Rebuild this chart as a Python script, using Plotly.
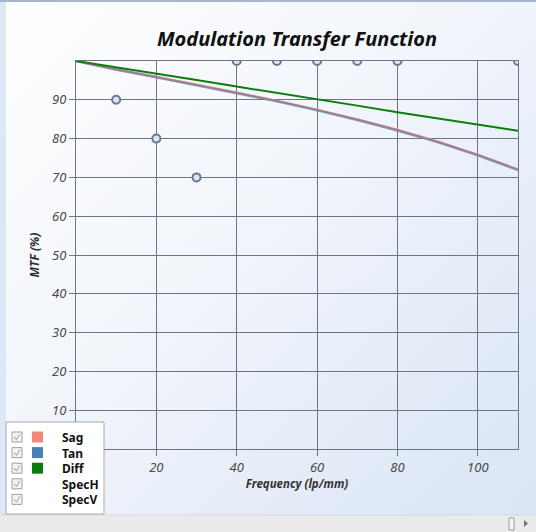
import plotly.graph_objects as go

# --- data ---
freq = [0, 10, 20, 30, 40, 50, 60, 70, 80, 90, 100, 110]
mtf_sag = [100, 97.8, 95.9, 93.9, 91.8, 89.7, 87.4, 84.9, 82.2, 79.2, 75.8, 72.0]
mtf_tan = [100, 97.8, 95.8, 93.8, 91.7, 89.6, 87.3, 84.8, 82.1, 79.1, 75.7, 71.9]
mtf_diff = [100, 98.4, 96.8, 95.1, 93.4, 91.8, 90.1, 88.5, 86.8, 85.2, 83.5, 82.0]

spec_h_x = [10, 20, 30]
spec_h_y = [90, 80, 70]
spec_v_x = [40, 50, 60, 70, 80, 110]
spec_v_y = [100, 100, 100, 100, 100, 100]

legend_names = ["Sag", "Tan", "Diff", "SpecH", "SpecV"]
legend_colors = ["#f4877b", "#4682b4", "#0a7d0a", None, None]

x_ticks = [20, 40, 60, 80, 100]
y_ticks = [10, 20, 30, 40, 50, 60, 70, 80, 90]

W, H = 536, 532
L, R, T, B = 76, 18, 61, 83
PW, PH = W - L - R, H - T - B
FONT = "Noto Sans, Open Sans, sans-serif"
GRID = "#6e7584"
PLOT_BG = "#dbe5f5"


def px(x):
    return (x - L) / PW


def py(y):
    return (H - B - y) / PH


fig = go.Figure()

fig.add_trace(go.Scatter(x=freq, y=mtf_sag, name="Sag", mode="lines",
                         line=dict(color="#f4877b", width=2.5)))
fig.add_trace(go.Scatter(x=freq, y=mtf_tan, name="Tan", mode="lines",
                         line=dict(color="rgba(70,130,180,0.55)", width=2.5)))
fig.add_trace(go.Scatter(x=freq, y=mtf_diff, name="Diff", mode="lines",
                         line=dict(color="#0a7d0a", width=2)))

marker_style = dict(symbol="circle", size=8, color=PLOT_BG,
                    line=dict(color="#6c7892", width=2))
fig.add_trace(go.Scatter(x=spec_h_x, y=spec_h_y, name="SpecH", mode="markers",
                         marker=marker_style))
fig.add_trace(go.Scatter(x=spec_v_x, y=spec_v_y, name="SpecV", mode="markers",
                         marker=marker_style))

# background gradient (svg data uri, no network needed)
svg = ("data:image/svg+xml;utf8,<svg xmlns='http://www.w3.org/2000/svg' width='536' height='532'>"
       "<defs><linearGradient id='g' x1='0' y1='0' x2='1' y2='1'>"
       "<stop offset='0' stop-color='%23ffffff'/><stop offset='0.45' stop-color='%23f1f5fb'/>"
       "<stop offset='1' stop-color='%23d9e4f5'/></linearGradient></defs>"
       "<rect width='536' height='532' fill='url(%23g)'/></svg>")
fig.add_layout_image(dict(source=svg, xref="paper", yref="paper",
                          x=px(0), y=py(0), sizex=W / PW, sizey=H / PH,
                          xanchor="left", yanchor="top", sizing="stretch", layer="below"))

shapes = []
# window chrome: top border, left strip, bottom scrollbar
shapes.append(dict(type="rect", xref="paper", yref="paper", x0=px(0), x1=px(W), y0=py(0), y1=py(2),
                   fillcolor="#a7b6cc", line=dict(width=0), layer="below"))
shapes.append(dict(type="rect", xref="paper", yref="paper", x0=px(0), x1=px(6), y0=py(2), y1=py(515),
                   fillcolor="#dde7f5", line=dict(width=0), layer="below"))
shapes.append(dict(type="rect", xref="paper", yref="paper", x0=px(0), x1=px(W), y0=py(515), y1=py(H),
                   fillcolor="#ebebeb", line=dict(width=0), layer="above"))
shapes.append(dict(type="line", xref="paper", yref="paper", x0=px(0), x1=px(W), y0=py(515), y1=py(515),
                   line=dict(color="#d8d8d8", width=1), layer="above"))
shapes.append(dict(type="rect", xref="paper", yref="paper", x0=px(509), x1=px(514), y0=py(518), y1=py(530),
                   fillcolor="#f6f6f6", line=dict(color="#9a9a9a", width=1), layer="above"))
shapes.append(dict(type="path", xref="paper", yref="paper",
                   path=f"M {px(524)} {py(520)} L {px(524)} {py(527)} L {px(528)} {py(523.5)} Z",
                   fillcolor="#707070", line=dict(width=0), layer="above"))

# legend box drawn by hand (checkboxes + square swatches)
shapes.append(dict(type="rect", xref="paper", yref="paper", x0=px(6), x1=px(104), y0=py(422), y1=py(514),
                   fillcolor="white", line=dict(color="#a8a8a8", width=1), layer="above"))
ROW0, ROW_STEP = 437, 15.6
for i, col in enumerate(legend_colors):
    yc = ROW0 + i * ROW_STEP
    shapes.append(dict(type="rect", xref="paper", yref="paper", x0=px(12), x1=px(22),
                       y0=py(yc - 5), y1=py(yc + 5), fillcolor="#f4f4f4",
                       line=dict(color="#a0a0a0", width=1), layer="above"))
    shapes.append(dict(type="path", xref="paper", yref="paper",
                       path=f"M {px(14)} {py(yc)} L {px(16.5)} {py(yc + 2.5)} L {px(20)} {py(yc - 3)}",
                       line=dict(color="#b4b4b4", width=1.2), layer="above"))
    if col:
        shapes.append(dict(type="rect", xref="paper", yref="paper", x0=px(32), x1=px(43),
                           y0=py(yc - 5.5), y1=py(yc + 5.5), fillcolor=col,
                           line=dict(width=0), layer="above"))
# labels as one block so the rows share plotly's line spacing (1.3em -> 15.6px at 12px)
annotations = [dict(x=px(61), y=py(ROW0 + 2 * ROW_STEP), xref="paper", yref="paper",
                    text="<br>".join(f"<b>{n}</b>" for n in legend_names), align="left",
                    showarrow=False, borderpad=0,
                    font=dict(family=FONT, size=12, color="#111111"),
                    xanchor="left", yanchor="middle")]

fig.update_layout(
    width=W, height=H,
    margin=dict(l=L, r=R, t=T, b=B),
    paper_bgcolor="#eef3fa",
    plot_bgcolor=PLOT_BG,
    showlegend=False,
    font=dict(family=FONT),
    title=dict(text="Modulation Transfer Function", x=0.5, xref="paper", xanchor="center",
               y=1 - 39 / H, yref="container", yanchor="middle",
               font=dict(family=FONT, size=20, color="#111111", weight="bold", style="italic")),
    shapes=shapes,
    annotations=annotations,
)

axis_common = dict(showgrid=True, gridcolor=GRID, gridwidth=1, zeroline=False,
                   showline=True, linecolor=GRID, linewidth=1, mirror=True,
                   ticks="outside", ticklen=6, tickcolor=GRID,
                   tickfont=dict(family=FONT, size=13, color="#4a4a4a", style="italic"))
fig.update_xaxes(range=[0, 110], tickvals=x_ticks, **axis_common,
                 title=dict(text="Frequency (lp/mm)", standoff=5,
                            font=dict(family=FONT, size=11.5, color="#333333", weight="bold", style="italic")))
fig.update_yaxes(range=[0, 100], tickvals=y_ticks, **axis_common,
                 title=dict(text="MTF (%)", standoff=9,
                            font=dict(family=FONT, size=12, color="#333333", weight="bold", style="italic")))

# the page body has a default 8px margin; drop it so the figure sits at the window's corner
fig.write_html("out.html", config={"displayModeBar": False},
               post_script="document.body.style.margin='0';")
